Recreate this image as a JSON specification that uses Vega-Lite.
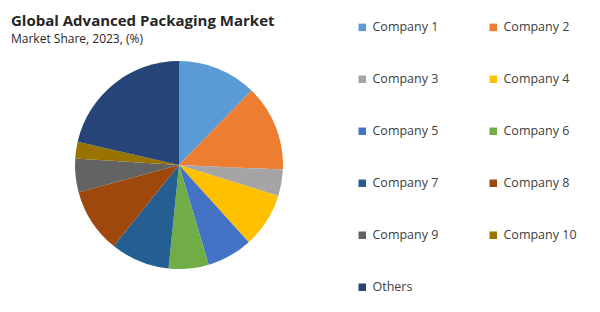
{
  "$schema": "https://vega.github.io/schema/vega-lite/v6.json",
  "width": 358,
  "height": 294,
  "autosize": {"type": "none"},
  "padding": {"left": 0, "top": 18, "right": 242, "bottom": 0},
  "background": "#ffffff",
  "title": {
    "text": "Global  Advanced Packaging Market",
    "subtitle": "Market Share, 2023, (%)",
    "anchor": "start",
    "orient": "top",
    "offset": -27,
    "dx": 11,
    "font": "Open Sans",
    "fontSize": 15,
    "fontWeight": "bold",
    "color": "#262626",
    "subtitleFont": "Open Sans",
    "subtitleFontSize": 12,
    "subtitleColor": "#262626",
    "subtitlePadding": 5
  },
  "data": {
    "values": [
      {"company": "Company 1", "share": 12.3, "idx": 1},
      {"company": "Company 2", "share": 13.4, "idx": 2},
      {"company": "Company 3", "share": 4.1, "idx": 3},
      {"company": "Company 4", "share": 8.5, "idx": 4},
      {"company": "Company 5", "share": 7.1, "idx": 5},
      {"company": "Company 6", "share": 6.2, "idx": 6},
      {"company": "Company 7", "share": 9.2, "idx": 7},
      {"company": "Company 8", "share": 10.0, "idx": 8},
      {"company": "Company 9", "share": 5.2, "idx": 9},
      {"company": "Company 10", "share": 2.6, "idx": 10},
      {"company": "Others", "share": 21.4, "idx": 11}
    ]
  },
  "mark": {"type": "arc", "outerRadius": 104},
  "encoding": {
    "theta": {"field": "share", "type": "quantitative", "stack": true},
    "order": {"field": "idx", "type": "quantitative"},
    "color": {
      "field": "company",
      "type": "nominal",
      "scale": {
        "domain": ["Company 1", "Company 2", "Company 3", "Company 4", "Company 5", "Company 6", "Company 7", "Company 8", "Company 9", "Company 10", "Others"],
        "range": ["#5B9BD5", "#ED7D31", "#A5A5A5", "#FFC000", "#4472C4", "#70AD47", "#255E91", "#9E480E", "#636363", "#997300", "#264478"]
      },
      "legend": {
        "orient": "none",
        "legendX": 356,
        "legendY": 3,
        "direction": "horizontal",
        "columns": 2,
        "title": null,
        "symbolType": "square",
        "symbolSize": 56,
        "symbolStrokeWidth": 0,
        "labelFont": "Open Sans",
        "labelFontSize": 12.5,
        "labelColor": "#404040",
        "labelOffset": 4,
        "rowPadding": 39,
        "columnPadding": 48
      }
    }
  },
  "config": {"view": {"stroke": null}}
}
